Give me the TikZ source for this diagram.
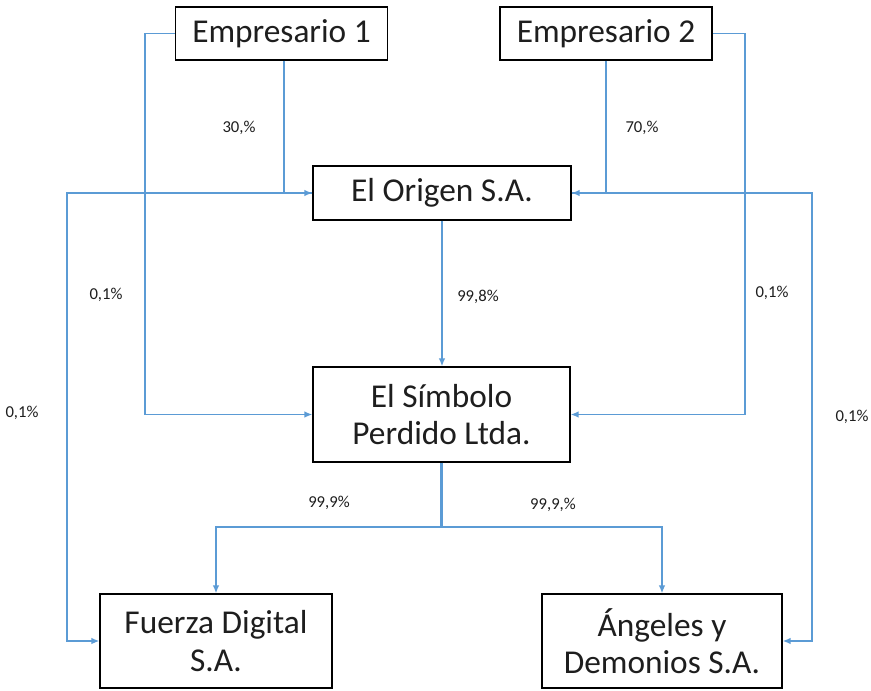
\documentclass[tikz,border=0pt]{standalone}
\usepackage{fontspec}
\setmainfont{Carlito}
\usetikzlibrary{arrows.meta}
\definecolor{lineblue}{RGB}{91,155,213}
\definecolor{txt}{RGB}{30,30,30}
\begin{document}
\begin{tikzpicture}[x=0.75pt,y=-0.75pt,
  box/.style={draw=black,line width=0.9pt,fill=white,inner sep=0pt,align=center,text=txt,font=\fontsize{25}{28}\selectfont},
  conn/.style={draw=lineblue,line width=1.25pt},
  arr/.style={conn,-{Latex[length=6pt,width=5pt]}},
  lbl/.style={font=\fontsize{12.5}{14}\selectfont,text=txt,inner sep=0pt}]
\useasboundingbox (0,0) rectangle (871,690);
\fill[white] (0,0) rectangle (871,690);
% boxes
\node[box,minimum width=159pt,minimum height=39.75pt] (e1) at (281.5,33.5) {Empresario 1};
\node[box,minimum width=159pt,minimum height=39.75pt] (e2) at (606,33.5) {Empresario 2};
\node[box,minimum width=193.5pt,minimum height=40.5pt] (org) at (442,193) {El Origen S.A.};
\node[box,minimum width=192.75pt,minimum height=71.25pt] (sim) at (441.5,414.5) {El Símbolo\\Perdido Ltda.};
\node[box,minimum width=174pt,minimum height=70.5pt] (fz) at (216,641) {Fuerza Digital\\S.A.};
\node[box,minimum width=180pt,minimum height=70.5pt] (ang) at (662,641) {Ángeles y\\Demonios S.A.};
% bend coordinates
\coordinate (L1) at (145,0);
\coordinate (L2) at (67,0);
\coordinate (R1) at (745,0);
\coordinate (R2) at (812,0);
\coordinate (J) at (441.5,527);
% connectors
\draw[arr] (e1.west) -| (L1 |- sim.west) -- (sim.west);
\draw[arr] (org.west) -| (L2 |- fz.west) -- (fz.west);
\draw[arr] ([xshift=1.875pt]e1.south) |- (org.west);
\draw[arr] (e2.east) -| (R1 |- sim.east) -- (sim.east);
\draw[arr] (org.east) -| (R2 |- ang.east) -- (ang.east);
\draw[arr] (e2.south) |- (org.east);
\draw[arr] (org.south) -- (org.south |- sim.north);
\draw[conn,line width=2pt] (sim.south) -- (sim.south |- J);
\draw[arr] (sim.south |- J) -| (fz.north);
\draw[arr] (sim.south |- J) -| (ang.north);
% labels
\node[lbl] (l1) at (239,128) {30,\%};
\node[lbl] (l2) at (642,128) {70,\%};
\node[lbl] (l3) at (106,295) {0,1\%};
\node[lbl] (l4) at (22,413) {0,1\%};
\node[lbl] (l5) at (478,297) {99,8\%};
\node[lbl] (l6) at (772,293) {0,1\%};
\node[lbl] (l7) at (852,417) {0,1\%};
\node[lbl] (l8) at (329,503) {99,9\%};
\node[lbl] (l9) at (553,505) {99,9,\%};
\end{tikzpicture}
\end{document}
